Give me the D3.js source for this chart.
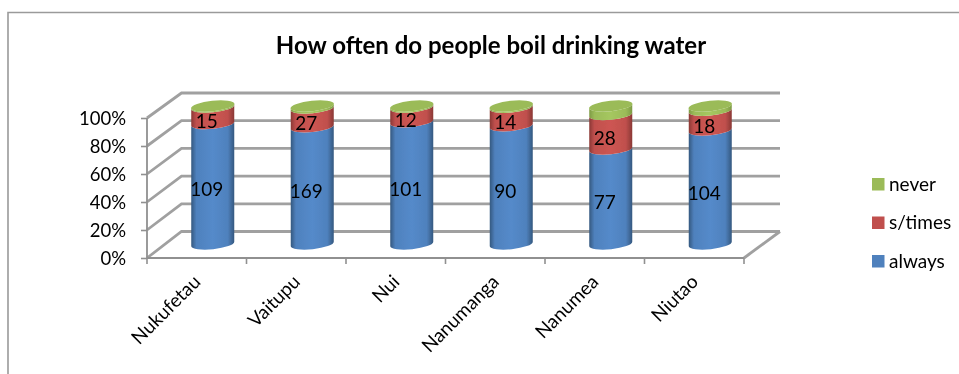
<!DOCTYPE html>
<html><head><meta charset="utf-8">
<script src="https://cdn.jsdelivr.net/npm/d3@7/dist/d3.min.js"></script>
<style>html,body{margin:0;padding:0;background:#fff}svg{display:block}text{font-family:Lato,"Open Sans",sans-serif;fill:#000}</style>
</head><body><svg id="c" width="959" height="374"></svg>
<script>
const categories=["Nukufetau","Vaitupu","Nui","Nanumanga","Nanumea","Niutao"];
const always=[109,169,101,90,77,104];
const sometimes=[15,27,12,14,28,18];
const never=[1,3,1,1,7,4];
const seriesNames=["always","s/times","never"];
const seriesColors=["#4F81BD","#C0504D","#9BBB59"];
const edgeColors=["#34587f","#8a3835","#7d9a44"];
const yTicks=[0,.2,.4,.6,.8,1];
const title="How often do people boil drinking water";

const svg=d3.select("#c");
const defs=svg.append("defs");
const soft=defs.append("filter").attr("id","soft").attr("x","-5%").attr("y","-5%").attr("width","110%").attr("height","110%");
soft.append("feGaussianBlur").attr("stdDeviation",0.5);
seriesColors.forEach((c,i)=>{
  const g=defs.append("linearGradient").attr("id","g"+i);
  [[0,edgeColors[i]],[.12,c],[.5,d3.color(c).brighter(.18)],[.85,c],[1,edgeColors[i]]].forEach(s=>g.append("stop").attr("offset",s[0]).attr("stop-color",s[1]));
});
const root=svg.append("g").attr("filter","url(#soft)");

// frame
root.append("path").attr("d","M8,374V12.5H959").attr("fill","none").attr("stroke","#9a9a9a").attr("stroke-width",1.6);

// scales
const xFront=d3.scaleBand().domain(categories).range([147,744]);
const yFront=d3.scaleLinear().domain([0,1]).range([258,118]);
const yBack=d3.scaleLinear().domain([0,1]).range([231.5,93]);
const yCyl=d3.scaleLinear().domain([0,1]).range([244,106]);
const backX0=181.5, backX1=780;

// walls
const grid="#a0a0a0";
yTicks.forEach(t=>{
  root.append("path").attr("d",`M${xFront.range()[0]},${yFront(t)}L${backX0},${yBack(t)}H${backX1}`)
    .attr("fill","none").attr("stroke",grid).attr("stroke-width",2.8);
});
root.append("path").attr("d",`M${xFront.range()[1]},${yFront(0)}L${backX1},${yBack(0)}`).attr("stroke",grid).attr("stroke-width",2.8);
root.append("line").attr("x1",147).attr("x2",744).attr("y1",yFront(0)).attr("y2",yFront(0)).attr("stroke","#909090").attr("stroke-width",1.8);
root.append("line").attr("x1",147).attr("x2",147).attr("y1",yFront(1)).attr("y2",yFront(0)).attr("stroke","#909090").attr("stroke-width",1.8);

// y axis
const yAxis=root.append("g").attr("transform","translate(147,0)")
  .call(d3.axisLeft(yFront).tickValues(yTicks).tickFormat(d3.format(".0%")).tickSize(6).tickPadding(14));
yAxis.select(".domain").remove();
yAxis.selectAll("line").attr("stroke","#909090").attr("stroke-width",1.6);
yAxis.selectAll("text").attr("font-size",18.5).attr("dx",-1).attr("dy","0.34em");

// x axis
const xAxis=root.append("g").attr("transform",`translate(0,${yFront(0)})`);
const tickPos=[...categories.map(c=>xFront(c)),xFront.range()[1]];
xAxis.selectAll("line").data(tickPos).join("line").attr("x1",d=>d).attr("x2",d=>d).attr("y1",0).attr("y2",6).attr("stroke","#909090").attr("stroke-width",1.6);
xAxis.selectAll("text").data(categories).join("text")
  .attr("font-size",19).attr("text-anchor","end")
  .attr("transform",d=>`translate(${xFront(d)+xFront.bandwidth()/2+5},${25}) rotate(-45)`)
  .text(d=>d);

// cylinders
const rx=21.5, ry=5.2, tilt=2.2;
const cxOffset=16, labelShift=-6;
const bar=categories.map((c,i)=>{
  const vals=[always[i],sometimes[i],never[i]];
  const tot=d3.sum(vals);
  let a=0;
  return {c,segs:vals.map((v,k)=>{const s={k,v,p0:a/tot,p1:(a+v)/tot};a+=v;return s;})};
});
const cx=c=>xFront(c)+xFront.bandwidth()/2+cxOffset;
const rot=-Math.atan(tilt/rx)*180/Math.PI;
bar.forEach(b=>{
  const x=cx(b.c), g=root.append("g");
  b.segs.forEach(s=>{
    const y0=yCyl(s.p0), y1=yCyl(s.p1);
    g.append("path").attr("d",
      `M${x-rx},${y1+tilt}A${rx},${ry} ${rot} 0 0 ${x+rx},${y1-tilt}`+
      `L${x+rx},${y0-tilt}A${rx},${ry} ${rot} 0 1 ${x-rx},${y0+tilt}Z`)
      .attr("fill",`url(#g${s.k})`);
  });
  g.append("ellipse").attr("cx",x).attr("cy",yCyl(1)).attr("rx",rx+.3).attr("ry",ry)
    .attr("transform",`rotate(${rot} ${x} ${yCyl(1)})`).attr("fill",seriesColors[2]);
  b.segs.slice(0,2).forEach(s=>{
    g.append("text").attr("x",x+labelShift).attr("y",yCyl((s.p0+s.p1)/2)+6).attr("dy","0.35em")
      .attr("text-anchor","middle").attr("font-size",19).text(s.v);
  });
});

// title
root.append("text").attr("x",491).attr("y",54).attr("text-anchor","middle")
  .attr("font-size",24).attr("font-weight",700).text(title);

// legend
const legY=d3.scalePoint().domain(seriesNames).range([261,184]);
seriesNames.forEach((n,i)=>{
  root.append("rect").attr("x",872).attr("y",legY(n)-6).attr("width",12.5).attr("height",12.5).attr("fill",seriesColors[i]);
  root.append("text").attr("x",889).attr("y",legY(n)).attr("dy","0.35em").attr("font-size",19).text(n);
});
</script></body></html>
